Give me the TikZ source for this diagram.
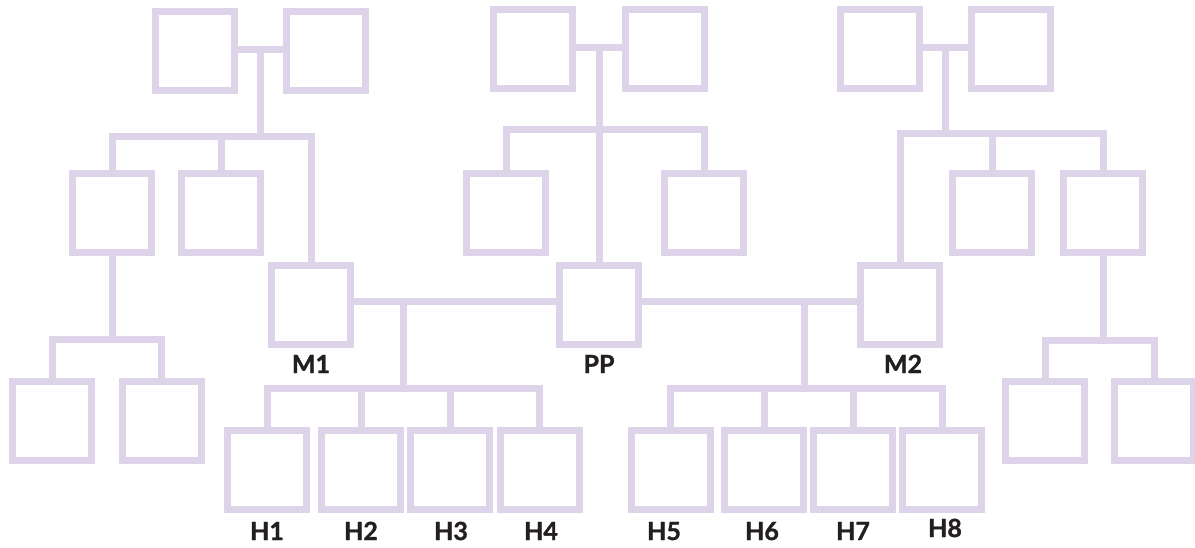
\documentclass[tikz,border=0pt]{standalone}
\usepackage{fontspec}
\newfontfamily\lab{Lato}[BoldFeatures={FakeBold=1.3}]
\definecolor{lav}{RGB}{221,212,233}
\definecolor{ink}{RGB}{35,31,32}
\begin{document}
\begin{tikzpicture}[x=1pt,y=-1pt,
  pbox/.style={draw=lav,line width=7pt,minimum width=79pt,minimum height=79pt,inner sep=0pt,outer sep=0pt},
  conn/.style={draw=lav,line width=7pt},
  lbl/.style={text=ink,font=\lab\bfseries\fontsize{25}{30}\selectfont,anchor=base,inner sep=0pt}]
\useasboundingbox (0,0) rectangle (1195,547);
% boxes
\node[pbox] (A1) at (194.5,51) {};
\node[pbox] (A2) at (326,51) {};
\node[pbox] (B1) at (112,213) {};
\node[pbox] (B2) at (221,213) {};
\node[pbox] (C1) at (52,420.5) {};
\node[pbox] (C2) at (161.5,420.5) {};
\node[pbox] (M1) at (311,304.5) {};
\node[pbox] (P1) at (533,49) {};
\node[pbox] (P2) at (665,49) {};
\node[pbox] (Q1) at (506,213) {};
\node[pbox] (Q2) at (704,213) {};
\node[pbox] (PP) at (599,304.5) {};
\node[pbox] (R1) at (880,49) {};
\node[pbox] (R2) at (1011,49) {};
\node[pbox] (S1) at (992,213) {};
\node[pbox] (S2) at (1103,213) {};
\node[pbox] (M2) at (900,304.5) {};
\node[pbox] (E1) at (1045,421) {};
\node[pbox] (E2) at (1154,421) {};
\node[pbox] (H1) at (267,469.5) {};
\node[pbox] (H2) at (361,469.5) {};
\node[pbox] (H3) at (450,469.5) {};
\node[pbox] (H4) at (539.5,469.5) {};
\node[pbox] (H5) at (670.5,469.5) {};
\node[pbox] (H6) at (764,469.5) {};
\node[pbox] (H7) at (853,469.5) {};
\node[pbox] (H8) at (942,469.5) {};
% junction coordinates
\coordinate (jA) at (260.5,49);
\coordinate (bA) at (260.5,136.5);
\coordinate (bB) at (112,339);
\coordinate (jP) at (599,47);
\coordinate (bP) at (599,129);
\coordinate (jR) at (945.5,47);
\coordinate (bR) at (945.5,133.5);
\coordinate (bS) at (1103,340);
\coordinate (jL) at (403,301.5);
\coordinate (bL) at (403,388);
\coordinate (jM) at (804,301.5);
\coordinate (bM) at (804,388);
% left family
\draw[conn] (A1.east |- jA) -- (A2.west |- jA);
\draw[conn] (jA) -- (bA);
\draw[conn] (B1.north) |- (M1.north |- bA) -- (M1.north);
\draw[conn] (B2.north) -- (B2.north |- bA);
\draw[conn] (B1.south) -- (bB);
\draw[conn] (C1.north) |- (C2.north |- bB) -- (C2.north);
% middle family
\draw[conn] (P1.east |- jP) -- (P2.west |- jP);
\draw[conn] (jP) -- (PP.north);
\draw[conn] (Q1.north) |- (Q2.north |- bP) -- (Q2.north);
% right family
\draw[conn] (R1.east |- jR) -- (R2.west |- jR);
\draw[conn] (jR) -- (bR);
\draw[conn] (M2.north) |- (S2.north |- bR) -- (S2.north);
\draw[conn] (S1.north) -- (S1.north |- bR);
\draw[conn] (S2.south) -- (bS);
\draw[conn] (E1.north) |- (E2.north |- bS) -- (E2.north);
% couples of PP
\draw[conn] (M1.east |- jL) -- (PP.west |- jL);
\draw[conn] (PP.east |- jM) -- (M2.west |- jM);
\draw[conn] (jL) -- (bL);
\draw[conn] (jM) -- (bM);
\draw[conn] (H1.north) |- (H4.north |- bL) -- (H4.north);
\draw[conn] (H2.north) -- (H2.north |- bL);
\draw[conn] (H3.north) -- (H3.north |- bL);
\draw[conn] (H5.north) |- (H8.north |- bM) -- (H8.north);
\draw[conn] (H6.north) -- (H6.north |- bM);
\draw[conn] (H7.north) -- (H7.north |- bM);
% labels
\node[lbl] (tM1) at (311,373) {M1};
\node[lbl] (tPP) at (599,373) {PP};
\node[lbl] (tM2) at (903,373) {M2};
\node[lbl] (tH1) at (267,540) {H1};
\node[lbl] (tH2) at (361,540) {H2};
\node[lbl] (tH3) at (451,540) {H3};
\node[lbl] (tH4) at (541,540) {H4};
\node[lbl] (tH5) at (664,540) {H5};
\node[lbl] (tH6) at (762,540) {H6};
\node[lbl] (tH7) at (853,540) {H7};
\node[lbl] (tH8) at (945,537) {H8};
\end{tikzpicture}
\end{document}
